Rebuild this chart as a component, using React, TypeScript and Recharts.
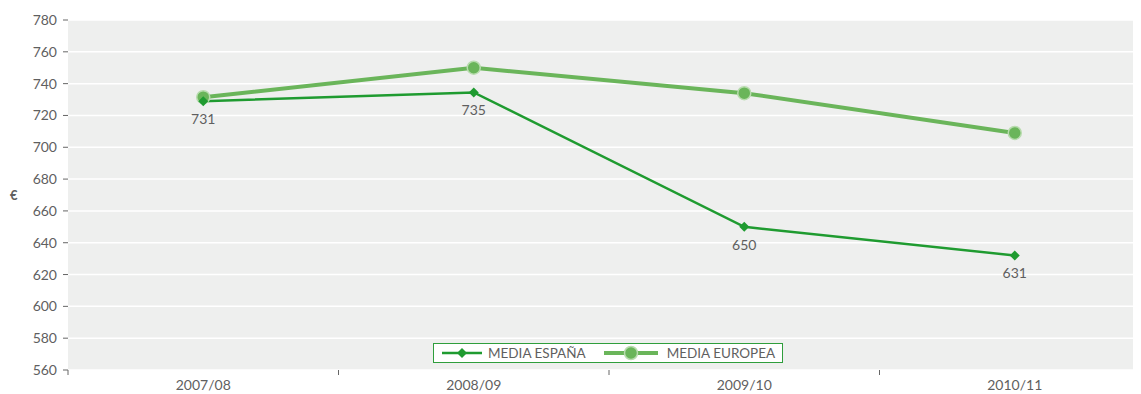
import React from 'react';
import { LineChart, Line, XAxis, YAxis, CartesianGrid, LabelList } from 'recharts';

const categories = ['2007/08', '2008/09', '2009/10', '2010/11'];
const espana = [729, 734.5, 650, 632];
const espanaLabels = ['731', '735', '650', '631'];
const europa = [731.5, 750, 734, 709];
const yTicks = [560, 580, 600, 620, 640, 660, 680, 700, 720, 740, 760, 780];
const seriesNames = ['MEDIA ESPAÑA', 'MEDIA EUROPEA'];
const yUnit = '€';

const data = categories.map((c, i) => ({
  cat: c,
  espana: espana[i],
  europa: europa[i],
  label: espanaLabels[i],
}));

const FONT = 'Lato, "Open Sans", sans-serif';
const DARK = '#1f9b30';
const LIGHT = '#6ab55a';
const TEXT = '#5f5f5f';

const XTick = (props: any) => {
  const { x, y, payload } = props;
  const off = payload && payload.offset ? payload.offset : 0;
  return (
    <g>
      <line x1={x - off} x2={x - off} y1={y - 8} y2={y - 3} stroke="#666" strokeWidth={1} />
      <text x={x} y={y + 12} textAnchor="middle" fill={TEXT} fontSize={14} fontFamily={FONT}>
        {payload.value}
      </text>
    </g>
  );
};

const Diamond = (props: any) => {
  const { cx, cy, index } = props;
  if (cx == null || cy == null) return <g key={index} />;
  return (
    <path
      key={index}
      d={`M${cx},${cy - 5} L${cx + 5},${cy} L${cx},${cy + 5} L${cx - 5},${cy} Z`}
      fill={DARK}
    />
  );
};

const Circle = (props: any) => {
  const { cx, cy, index } = props;
  if (cx == null || cy == null) return <g key={index} />;
  return <circle key={index} cx={cx} cy={cy} r={6.5} fill={LIGHT} stroke="#b8dcae" strokeWidth={1.5} />;
};

export default function App() {
  return (
    <div style={{ position: 'relative', width: 1133, height: 386, fontFamily: FONT }}>
      <LineChart
        width={1133}
        height={386}
        data={data}
        margin={{ top: 12, right: -9, bottom: 0, left: 0 }}
        style={{ fontFamily: FONT }}
      >
        <CartesianGrid vertical={false} stroke="#ffffff" strokeWidth={1.5} fill="#eeefee" />
        <XAxis
          dataKey="cat"
          scale="band"
          axisLine={false}
          tickLine={false}
          height={24}
          tick={<XTick />}
          interval={0}
        />
        <YAxis
          domain={[560, 780]}
          ticks={yTicks}
          width={60}
          axisLine={false}
          tickSize={5}
          tickMargin={6}
          tickLine={{ stroke: '#666' }}
          tick={{ fill: TEXT, fontSize: 14, fontFamily: FONT }}
          interval={0}
          label={{ value: yUnit, position: 'insideLeft', offset: 2, fill: TEXT, fontSize: 13, fontWeight: 'bold' }}
        />
        <Line
          dataKey="europa"
          name={seriesNames[1]}
          stroke={LIGHT}
          strokeWidth={4}
          dot={Circle}
          activeDot={false}
          isAnimationActive={false}
        />
        <Line
          dataKey="espana"
          name={seriesNames[0]}
          stroke={DARK}
          strokeWidth={2.5}
          dot={Diamond}
          activeDot={false}
          isAnimationActive={false}
        >
          <LabelList dataKey="label" position="bottom" offset={13} fill={TEXT} fontSize={14} fontFamily={FONT} />
        </Line>
      </LineChart>
      <div
        style={{
          position: 'absolute',
          left: 425,
          top: 335,
          width: 348,
          height: 18,
          border: '1.5px solid #2f9e3c',
          background: '#fff',
          display: 'flex',
          alignItems: 'center',
          fontSize: 13.5,
          color: TEXT,
          fontFamily: FONT,
          whiteSpace: 'nowrap',
        }}
      >
        <svg width={40} height={12} style={{ marginLeft: 8 }}>
          <line x1={0} x2={40} y1={6} y2={6} stroke={DARK} strokeWidth={2.5} />
          <path d="M20,1 L25,6 L20,11 L15,6 Z" fill={DARK} />
        </svg>
        <span style={{ marginLeft: 6 }}>{seriesNames[0]}</span>
        <svg width={54} height={16} style={{ marginLeft: 18 }}>
          <line x1={0} x2={54} y1={8} y2={8} stroke={LIGHT} strokeWidth={4} />
          <circle cx={27} cy={8} r={6.5} fill={LIGHT} stroke="#b8dcae" strokeWidth={1.5} />
        </svg>
        <span style={{ marginLeft: 9 }}>{seriesNames[1]}</span>
      </div>
    </div>
  );
}
